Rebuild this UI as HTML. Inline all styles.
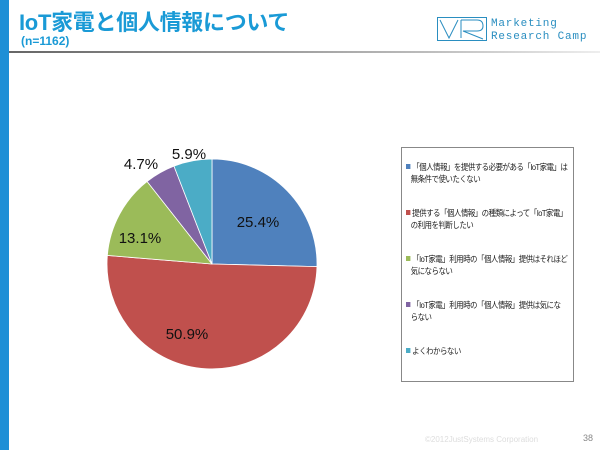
<!DOCTYPE html>
<html><head><meta charset="utf-8"><style>
body{margin:0;width:600px;height:450px;background:#fff;position:relative;overflow:hidden;font-family:"Liberation Sans","Noto Sans CJK JP",sans-serif}
.bar{position:absolute;left:0;top:0;width:9px;height:450px;background:#1e8fd6}
.title{position:absolute;left:19px;top:5px;font-size:22px;font-weight:bold;color:#1a9ad6;letter-spacing:-0.3px}
.n{position:absolute;left:21px;top:34px;font-size:12px;font-weight:bold;color:#1a9ad6}
.line{position:absolute;left:9px;top:51px;width:591px;height:2px;background:linear-gradient(90deg,#666,#bbb 70%,#eee)}
.logo{position:absolute;left:491px;top:18px;font-size:11px;line-height:13px;color:#2a8ec0;letter-spacing:0.8px;font-family:"Liberation Mono",monospace}
.legend{position:absolute;left:401px;top:147px;width:171px;height:233px;border:1px solid #888;font-size:8.5px;line-height:12px;color:#222}
.it{position:absolute;left:4px;letter-spacing:-0.6px;white-space:nowrap;transform:scaleX(0.88);transform-origin:0 0}
.sq{display:inline-block;width:5px;height:5px;margin-right:2px;vertical-align:1px}
.foot{position:absolute;left:425px;top:435px;font-size:8px;color:#ddd}
.pg{position:absolute;left:583px;top:433px;font-size:9px;color:#888}
</style></head><body>
<div class="bar"></div>
<div class="title">IoT家電と個人情報について</div>
<div class="n">(n=1162)</div>
<div class="line"></div>
<svg style="position:absolute;left:437px;top:17px" width="50" height="24"><rect x="0.5" y="0.5" width="49" height="23" fill="none" stroke="#2a8ec0"/><path d="M3 3 L12 21 L21 3 M24 3 V21 M24 3 H40 Q46 3 46 9 Q46 14 40 14 H26 L46 22" fill="none" stroke="#2a8ec0"/></svg>
<div class="logo">Marketing<br>Research Camp</div>
<svg style="position:absolute;left:0;top:0" width="600" height="450">
<g stroke="#fff" stroke-width="0.8">
<path d="M212 264 L212 159 A105 105 0 0 1 316.97 266.64Z" fill="#4f81bd"/>
<path d="M212 264 L316.97 266.64 A105 105 0 1 1 107.35 255.43Z" fill="#c0504d"/>
<path d="M212 264 L107.35 255.43 A105 105 0 0 1 147.11 181.45Z" fill="#9bbb59"/>
<path d="M212 264 L147.11 181.45 A105 105 0 0 1 173.96 166.13Z" fill="#8064a2"/>
<path d="M212 264 L173.96 166.13 A105 105 0 0 1 212 159Z" fill="#4bacc6"/>
</g>
<g font-family="Liberation Sans, sans-serif" font-size="15" fill="#111" text-anchor="middle">
<text x="258" y="227">25.4%</text>
<text x="187" y="339">50.9%</text>
<text x="140" y="243">13.1%</text>
<text x="141" y="169">4.7%</text>
<text x="189" y="159">5.9%</text>
</g></svg>
<div class="legend">
<div class="it" style="top:13px"><span class="sq" style="background:#4f81bd"></span>「個人情報」を提供する必要がある「IoT家電」は<br>&nbsp;&nbsp;&nbsp;無条件で使いたくない</div>
<div class="it" style="top:59px"><span class="sq" style="background:#c0504d"></span>提供する「個人情報」の種類によって「IoT家電」<br>&nbsp;&nbsp;&nbsp;の利用を判断したい</div>
<div class="it" style="top:105px"><span class="sq" style="background:#9bbb59"></span>「IoT家電」利用時の「個人情報」提供はそれほど<br>&nbsp;&nbsp;&nbsp;気にならない</div>
<div class="it" style="top:151px"><span class="sq" style="background:#8064a2"></span>「IoT家電」利用時の「個人情報」提供は気にな<br>&nbsp;&nbsp;&nbsp;らない</div>
<div class="it" style="top:197px"><span class="sq" style="background:#4bacc6"></span>よくわからない</div>
</div>
<div class="foot">©2012JustSystems Corporation</div>
<div class="pg">38</div>
</body></html>
